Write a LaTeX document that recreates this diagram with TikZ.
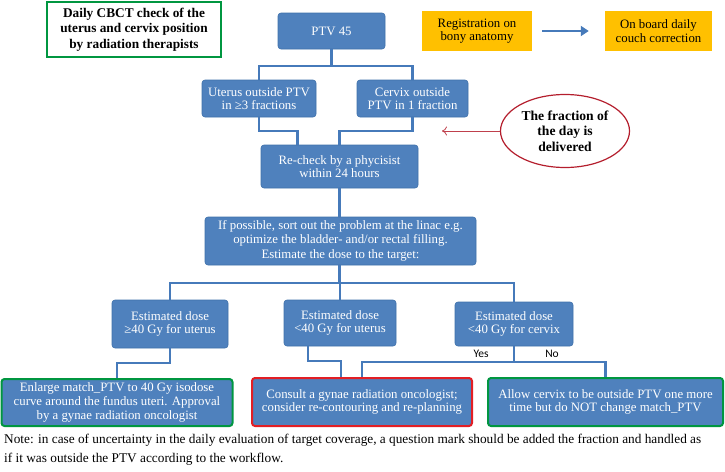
\documentclass[tikz,border=0pt]{standalone}
\usepackage{fontspec}
\setmainfont{Liberation Serif}
\newfontfamily\yesnofont{Carlito}
\usetikzlibrary{shapes.geometric,arrows.meta}
\definecolor{boxblue}{RGB}{79,129,189}
\definecolor{edgeblue}{RGB}{62,112,170}
\definecolor{linkblue}{RGB}{70,122,186}
\definecolor{boxyellow}{RGB}{255,192,0}
\definecolor{okgreen}{RGB}{0,150,64}
\definecolor{stopred}{RGB}{226,30,36}
\definecolor{ovalred}{RGB}{180,30,45}
\newcommand{\boxfont}{\fontsize{12.8}{13.6}\selectfont}

\begin{document}
\begin{tikzpicture}[x=1pt,y=-1pt]
                        \tikzstyle{stepbox}=[rectangle, rounded corners=3pt, fill=boxblue, draw=edgeblue, line width=0.6pt, text=white, align=center, font=\boxfont, inner sep=1pt]
                        \tikzstyle{infobox}=[rectangle, fill=boxyellow, align=center, font=\boxfont, inner sep=1pt]
                        \tikzstyle{goodbox}=[stepbox, draw=okgreen, line width=2pt]
                        \tikzstyle{badbox}=[stepbox, draw=stopred, line width=2pt]
                        \tikzstyle{link}=[draw=linkblue, line width=2.2pt]
                        \useasboundingbox (0,0) rectangle (725,471);
                        \node[rectangle, draw=okgreen, line width=2pt, fill=white, align=center, minimum width=174pt, minimum height=55pt, font=\fontsize{13.3}{15.5}\selectfont\bfseries] (daily) at (134,29.5) {Daily CBCT check of the\\uterus and cervix position\\by radiation therapists};
                        \node[stepbox, minimum width=107pt, minimum height=36pt] (ptv) at (331.5,31) {PTV 45};
                        \node[infobox, minimum width=110pt, minimum height=40pt] (reg) at (477,31) {Registration on\\bony anatomy};
                        \node[infobox, minimum width=107pt, minimum height=40pt] (board) at (658.5,31) {On board daily\\couch correction};
                        \node[stepbox, minimum width=114pt, minimum height=37pt] (uterusout) at (259,98.5) {Uterus outside PTV\\in ≥3 fractions};
                        \node[stepbox, minimum width=111pt, minimum height=37pt] (cervixout) at (412.5,98.5) {Cervix outside\\PTV in 1 fraction};
                        \node[ellipse, draw=ovalred, line width=1.2pt, minimum width=129pt, minimum height=73pt, inner sep=0pt, align=center, font=\fontsize{13.6}{15.5}\selectfont\bfseries] (fraction) at (565,131) {The fraction of\\the day is\\delivered};
                        \node[stepbox, minimum width=157pt, minimum height=43pt] (recheck) at (339.5,166.5) {Re-check by a phycisist\\within 24 hours};
                        \node[stepbox, minimum width=271pt, minimum height=48pt] (possible) at (340.5,241) {If possible, sort out the problem at the linac e.g.\\optimize the bladder- and/or rectal filling.\\[2pt]Estimate the dose to the target:};
                        \node[stepbox, minimum width=116pt, minimum height=48pt] (estuterushigh) at (170,324) {Estimated dose\\≥40 Gy for uterus};
                        \node[stepbox, minimum width=112pt, minimum height=46pt] (estuteruslow) at (340,323) {Estimated dose\\<40 Gy for uterus};
                        \node[stepbox, minimum width=118pt, minimum height=44pt] (estcervix) at (514,324) {Estimated dose\\<40 Gy for cervix};
                        \node[goodbox, minimum width=231pt, minimum height=47pt] (enlarge) at (117,402.5) {Enlarge match\_PTV to 40 Gy isodose\\curve around the fundus uteri. Approval\\by a gynae radiation oncologist};
                        \node[badbox, minimum width=220pt, minimum height=48pt] (consult) at (362,402) {Consult a gynae radiation oncologist;\\consider re-contouring and re-planning};
                        \node[goodbox, minimum width=235pt, minimum height=48pt] (allow) at (605.5,402) {Allow cervix to be outside PTV one more\\time but do NOT change match\_PTV};
                        \node[anchor=north west, align=left, inner sep=0pt, font=\fontsize{13.3}{19}\selectfont] (note) at (4,434) {Note: in case of uncertainty in the daily evaluation of target coverage, a question mark should be added the fraction and handled as\\if it was outside the PTV according to the workflow.};
                        \draw[link, -{Triangle[length=8pt,width=10pt]}] ([xshift=10pt]reg.east) -- ([xshift=-16pt]board.west);
                        \draw[draw=ovalred!85, line width=0.8pt, -{To[length=5pt,width=9pt]}] (fraction.west) -- (442,131);
                        \draw[link] (ptv.south) -- ++(0,17) -| (uterusout.north);
                        \draw[link] (ptv.south) -- ++(0,17) -| (cervixout.north);
                        \draw[link] (uterusout.south) -- ++(0,14) -| ([xshift=-42pt]recheck.north);
                        \draw[link] (cervixout.south) -- ++(0,14) -| (recheck.north);
                        \draw[link] (recheck.south) -- (recheck.south |- possible.north);
                        \draw[link] (recheck.south |- possible.south) -- ++(0,18) -| (estuterushigh.north);
                        \draw[link] (recheck.south |- possible.south) -- ++(0,18) -| (estuteruslow.north);
                        \draw[link] (recheck.south |- possible.south) -- ++(0,18) -| (estcervix.north);
                        \draw[link] (estuterushigh.south) -- ++(0,15) -| (enlarge.north);
                        \draw[link] ([xshift=-32pt]estuteruslow.south) -- ++(0,15) -| ([xshift=-21pt]consult.north);
                        \draw[link] (estcervix.south) -- ++(0,16) -| (consult.north);
                        \draw[link] (estcervix.south) -- ++(0,16) -| (allow.north);
                        \node[font=\yesnofont\fontsize{11.5}{12}\selectfont, inner sep=0pt] (yes) at (481,354) {Yes};
                        \node[font=\yesnofont\fontsize{11.5}{12}\selectfont, inner sep=0pt] (no) at (552,354) {No};
                    \end{tikzpicture}
\end{document}
